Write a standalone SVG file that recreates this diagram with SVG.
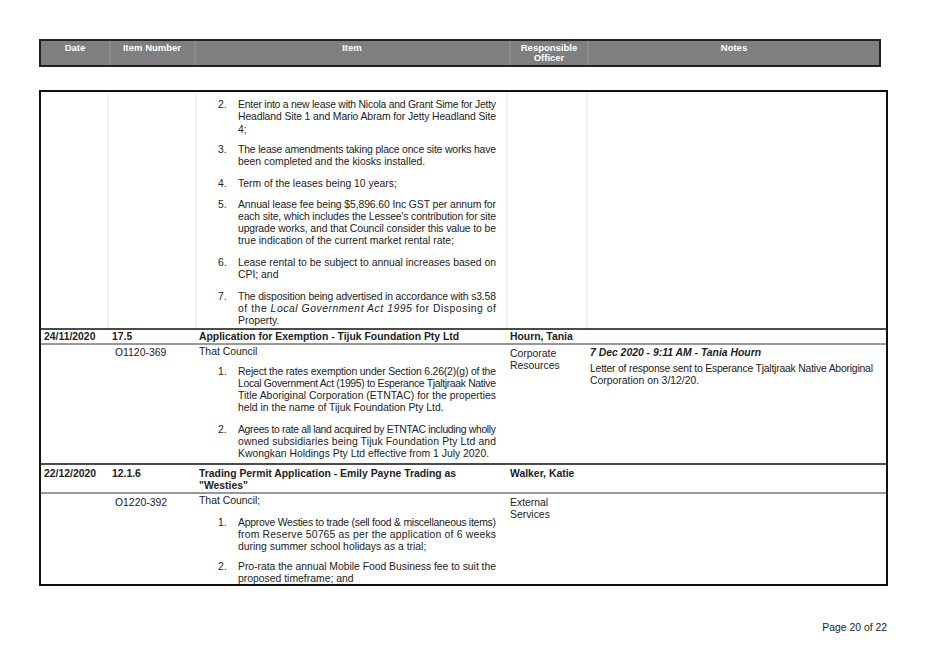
<svg xmlns="http://www.w3.org/2000/svg" width="928" height="656" viewBox="0 0 928 656">
<style>
text{font-family:"Liberation Sans",Arial,sans-serif;font-size:10.4px;fill:#222}
.h{fill:#fff;font-weight:bold;font-size:9.5px;text-anchor:middle}
.b{font-weight:bold}
.g{stroke:#e4e4e4;stroke-width:1}
.k{stroke:#111;stroke-width:1.5}
</style>
<rect width="928" height="656" fill="#fff"/>
<g id="header">
<rect x="40" y="40" width="840" height="26" fill="#7f7f7f" stroke="#222" stroke-width="2"/>
<g stroke="#999"><line x1="110" y1="41" x2="110" y2="65"/><line x1="195" y1="41" x2="195" y2="65"/><line x1="510" y1="41" x2="510" y2="65"/><line x1="588" y1="41" x2="588" y2="65"/></g>
<text class="h" x="75" y="51">Date</text>
<text class="h" x="152" y="51">Item Number</text>
<text class="h" x="352" y="51">Item</text>
<text class="h" x="549" y="51">Responsible</text>
<text class="h" x="549" y="61">Officer</text>
<text class="h" x="734" y="51">Notes</text>
</g>
<g id="table">
<rect x="40" y="91" width="847" height="494" fill="none" stroke="#111" stroke-width="2"/>
<g class="g"><line x1="108" y1="92" x2="108" y2="329"/><line x1="196" y1="92" x2="196" y2="329"/><line x1="507" y1="92" x2="507" y2="329"/><line x1="587" y1="92" x2="587" y2="329"/></g>
<line class="k" x1="40" y1="329" x2="887" y2="329"/>
<line x1="40" y1="344" x2="887" y2="344" stroke="#333"/>
<line class="k" x1="40" y1="464" x2="887" y2="464"/>
<line x1="40" y1="493" x2="887" y2="493" stroke="#333"/>
</g>
<g id="row1">
<text x="218" y="108">2.</text><text x="238" y="108" textLength="258">Enter into a new lease with Nicola and Grant Sime for Jetty</text>
<text x="238" y="120" textLength="258">Headland Site 1 and Mario Abram for Jetty Headland Site</text>
<text x="238" y="133">4;</text>
<text x="218" y="153">3.</text><text x="238" y="153" textLength="258">The lease amendments taking place once site works have</text>
<text x="238" y="165">been completed and the kiosks installed.</text>
<text x="218" y="187">4.</text><text x="238" y="187">Term of the leases being 10 years;</text>
<text x="218" y="208">5.</text><text x="238" y="208" textLength="258">Annual lease fee being $5,896.60 Inc GST per annum for</text>
<text x="238" y="220" textLength="258">each site, which includes the Lessee's contribution for site</text>
<text x="238" y="232" textLength="258">upgrade works, and that Council consider this value to be</text>
<text x="238" y="244">true indication of the current market rental rate;</text>
<text x="218" y="266">6.</text><text x="238" y="266" textLength="258">Lease rental to be subject to annual increases based on</text>
<text x="238" y="278">CPI; and</text>
<text x="218" y="300">7.</text><text x="238" y="300" textLength="258">The disposition being advertised in accordance with s3.58</text>
<text x="238" y="312" textLength="258">of the <tspan font-style="italic">Local Government Act 1995</tspan> for Disposing of</text>
<text x="238" y="324">Property.</text>
</g>
<g id="row2">
<text class="b" x="44" y="340">24/11/2020</text>
<text class="b" x="112" y="340">17.5</text>
<text class="b" x="199" y="340">Application for Exemption - Tijuk Foundation Pty Ltd</text>
<text class="b" x="510" y="340">Hourn, Tania</text>
<text x="115" y="356">O1120-369</text>
<text x="199" y="355">That Council</text>
<text x="218" y="375">1.</text><text x="238" y="375" textLength="258">Reject the rates exemption under Section 6.26(2)(g) of the</text>
<text x="238" y="387" textLength="258">Local Government Act (1995) to Esperance Tjaltjraak Native</text>
<text x="238" y="399" textLength="258">Title Aboriginal Corporation (ETNTAC) for the properties</text>
<text x="238" y="411">held in the name of Tijuk Foundation Pty Ltd.</text>
<text x="218" y="433">2.</text><text x="238" y="433" textLength="258">Agrees to rate all land acquired by ETNTAC including wholly</text>
<text x="238" y="445" textLength="258">owned subsidiaries being Tijuk Foundation Pty Ltd and</text>
<text x="238" y="457">Kwongkan Holdings Pty Ltd effective from 1 July 2020.</text>
<text x="510" y="357">Corporate</text>
<text x="510" y="369">Resources</text>
<text x="590" y="356" font-weight="bold" font-style="italic">7 Dec 2020 - 9:11 AM - Tania Hourn</text>
<text x="590" y="372" textLength="283">Letter of response sent to Esperance Tjaltjraak Native Aboriginal</text>
<text x="590" y="384">Corporation on 3/12/20.</text>
</g>
<g id="row3">
<text class="b" x="44" y="477">22/12/2020</text>
<text class="b" x="112" y="477">12.1.6</text>
<text class="b" x="199" y="477">Trading Permit Application - Emily Payne Trading as</text>
<text class="b" x="199" y="489">"Westies"</text>
<text class="b" x="510" y="477">Walker, Katie</text>
<text x="115" y="506">O1220-392</text>
<text x="199" y="504">That Council;</text>
<text x="510" y="506">External</text>
<text x="510" y="518">Services</text>
<text x="218" y="526">1.</text><text x="238" y="526" textLength="258">Approve Westies to trade (sell food &amp; miscellaneous items)</text>
<text x="238" y="538" textLength="258">from Reserve 50765 as per the application of 6 weeks</text>
<text x="238" y="550">during summer school holidays as a trial;</text>
<text x="218" y="570">2.</text><text x="238" y="570" textLength="258">Pro-rata the annual Mobile Food Business fee to suit the</text>
<text x="238" y="582">proposed timeframe; and</text>
</g>
<text x="887" y="631" text-anchor="end">Page 20 of 22</text>
</svg>
